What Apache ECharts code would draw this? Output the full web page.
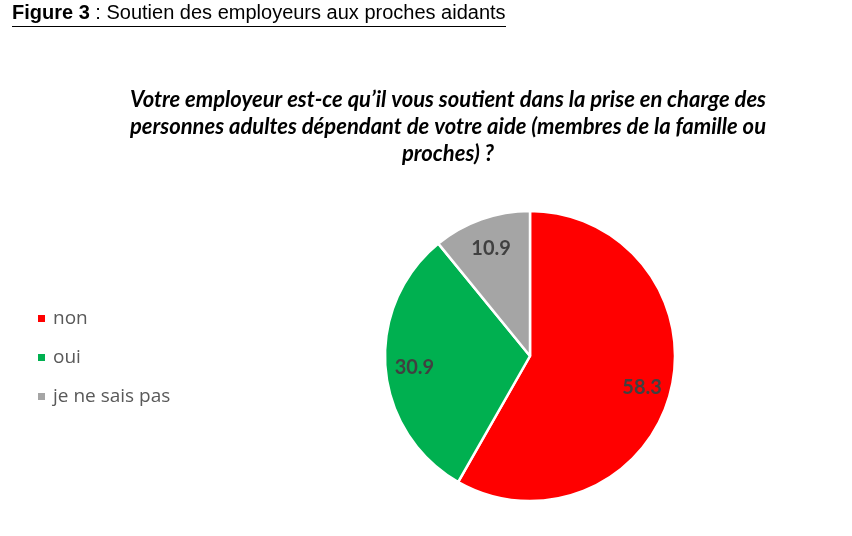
<!DOCTYPE html>
<html><head><meta charset="utf-8">
<script src="https://cdn.jsdelivr.net/npm/echarts@6/dist/echarts.min.js"></script>
<style>html,body{margin:0;padding:0;background:#fff}#c{width:852px;height:536px}</style>
</head><body><div id="c"></div>
<script>
const categories = ['non', 'oui', 'je ne sais pas'];
const values = [58.3, 30.9, 10.9];
const colors = ['#FF0000', '#00B050', '#A5A5A5'];
const headerBold = 'Figure 3';
const headerRest = ' : Soutien des employeurs aux proches aidants';
const question = 'Votre employeur est-ce qu\u2019il vous soutient dans la prise en charge des\npersonnes adultes dépendant de votre aide (membres de la famille ou\nproches) ?';

const data = categories.map((n, i) => ({ name: n, value: values[i], itemStyle: { color: colors[i] } }));
const chart = echarts.init(document.getElementById('c'), null, { renderer: 'canvas' });
chart.setOption({
  animation: false,
  backgroundColor: '#fff',
  title: {
    text: question,
    left: 443, top: 81, textAlign: 'center',
    textStyle: { fontFamily: 'Lato', fontStyle: 'italic', fontWeight: 'bold', fontSize: 22, lineHeight: 27, color: '#000' }
  },
  graphic: [
    { type: 'text', left: 12, top: 3, style: {
        text: '{b|' + headerBold + '}{r|' + headerRest + '}',
        rich: { b: { fontFamily: 'Liberation Sans', fontWeight: 'bold', fontSize: 20, fill: '#000' },
                r: { fontFamily: 'Liberation Sans', fontSize: 20, fill: '#000' } } } },
    { type: 'line', shape: { x1: 12, y1: 26.5, x2: 506, y2: 26.5 }, style: { stroke: '#000', lineWidth: 1 } }
  ],
  legend: {
    orient: 'vertical', left: 31, top: 302, itemGap: 16, itemWidth: 9, itemHeight: 9, icon: 'rect',
    data: categories,
    textStyle: { fontFamily: 'Open Sans', fontSize: 19, lineHeight: 23, color: '#595959', padding: [0, 0, 0, 2] }
  },
  series: [
    { type: 'pie', center: [530, 356], radius: [0, 145], startAngle: 90, clockwise: true,
      data: data, label: { show: false }, labelLine: { show: false },
      itemStyle: { borderColor: '#fff', borderWidth: 2.5 }, emphasis: { disabled: true } },
    { type: 'pie', center: [530, 358], radius: [81, 145], startAngle: 90, clockwise: true, silent: true,
      legendHoverLink: false,
      data: data.map(d => ({ name: d.name, value: d.value, itemStyle: { color: 'rgba(0,0,0,0)' } })),
      itemStyle: { borderWidth: 0 },
      label: { show: true, position: 'inside', formatter: '{c}', fontFamily: 'Lato', fontWeight: 'bold', fontSize: 20, color: '#404040' },
      labelLine: { show: false }, emphasis: { disabled: true } }
  ]
});
</script></body></html>
